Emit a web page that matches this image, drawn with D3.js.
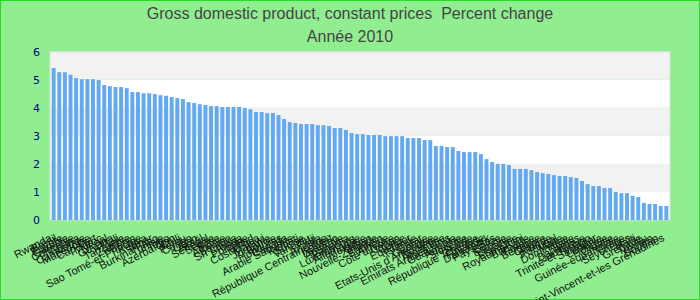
<!DOCTYPE html>
<html>
<head>
<meta charset="utf-8">
<script src="https://cdn.jsdelivr.net/npm/d3@7"></script>
<style>
    body{margin:0;padding:0;background:#fff;}
    .chart.wrapper{width:700px;height:300px;}
    .title{font-family:"Liberation Sans",Arial,sans-serif;font-size:16px;fill:#444;white-space:pre;}
    .ylab{font-family:"DejaVu Sans",sans-serif;font-size:11px;fill:#000080;}
    .xlab{font-family:"Liberation Sans",Arial,sans-serif;font-size:11px;fill:#111;}
</style>
</head>
<body>
<div class="chart wrapper"></div>
<script>
'use strict';
var countries = [
    "Rwanda","Brésil","Egypte","Gambie","Colombie","Ghana","Cambodge","Macédoine","Cap-Vert","Maroc",
    "Népal","Guyana","Mali","Tanzanie","Zambie","Bénin","Sao Tomé-et-Principe","Kenya","Niger","Burkina Faso",
    "Tunisie","Togo","Azerbaïdjan","Chili","Pérou","Congo","Liban","Israël","Sénégal","Serbie",
    "Syrie","Albanie","Samoa","Sri Lanka","Tonga","Pologne","Tchad","Costa Rica","Malawi","Jordanie",
    "Bolivie","Honduras","Canada","Arabie Saoudite","Kiribati","Suisse","Vanuatu","Fidji","Angola","République Centrafricaine",
    "Koweït","Lesotho","Australie","Panama","Luxembourg","Allemagne","Mexique","Oman","Nouvelle-Zélande","Bahreïn",
    "Algérie","Côte d'Ivoire","Japon","Corée","Equateur","Islande","Qatar","Géorgie","Etats-Unis d'Amérique","Norvège",
    "Argentine","Emirats Arabes Unis","Guatemala","Autriche","Slovénie","Suède","République Tchèque","Finlande","Danemark","Pays-Bas",
    "Belize","Estonie","Lituanie","Espagne","Royaume-Uni","Barbade","France","Belgique","Chypre","Irlande",
    "Portugal","Malte","Dominique","Italie","Bahamas","Jamaïque","Trinité-et-Tobago","Salvador","Lettonie","Hongrie",
    "Croatie","Guinée-équatoriale","Grèce","Seychelles","Haïti","Grenade","Tuvalu","Yémen","Soudan","Saint-Vincent-et-les Grenadines"
];
var growth = [
    5.42,5.27,5.27,5.18,5.06,5.02,5.02,5.02,4.99,4.81,
    4.77,4.74,4.74,4.70,4.56,4.56,4.52,4.52,4.49,4.45,
    4.43,4.38,4.35,4.31,4.20,4.17,4.13,4.10,4.06,4.06,
    4.03,4.03,4.03,4.03,3.99,3.95,3.85,3.85,3.81,3.81,
    3.74,3.60,3.49,3.46,3.42,3.42,3.42,3.38,3.38,3.35,
    3.28,3.28,3.21,3.10,3.06,3.06,3.03,3.03,3.03,2.99,
    2.99,2.99,2.99,2.92,2.92,2.92,2.85,2.85,2.64,2.64,
    2.60,2.60,2.46,2.42,2.42,2.42,2.35,2.17,2.07,2.00,
    2.00,1.96,1.82,1.82,1.82,1.78,1.71,1.67,1.64,1.60,
    1.57,1.57,1.53,1.50,1.39,1.28,1.21,1.21,1.14,1.14,
    1.00,0.96,0.96,0.86,0.82,0.61,0.57,0.57,0.50,0.50
];
var yTicks = [0,1,2,3,4,5,6];
var titleLines = ["Gross domestic product, constant prices  Percent change","Année 2010"];

var drawChart=function(){
    var W = 700, H = 300;
    var margin = {top: 51.7, right: 30, bottom: 80, left: 50},
        width = W - margin.left - margin.right,
        height = H - margin.top - margin.bottom;

    var svg = d3.select(".chart.wrapper").append("svg")
        .attr("width", W)
        .attr("height", H);

    // background + outer border
    svg.append("rect")
        .attr("x", 0.5).attr("y", 0.5)
        .attr("width", W - 1).attr("height", H - 1)
        .attr("fill", "#90ee90")
        .attr("stroke", "#22dd22");

    // titles
    svg.selectAll(".title")
        .data(titleLines)
        .enter().append("text")
        .attr("class", "title")
        .attr("xml:space", "preserve")
        .attr("x", W / 2)
        .attr("y", function(d, i){ return 18.5 + i * 23; })
        .attr("text-anchor", "middle")
        .text(function(d){ return d; });

    var g = svg.append("g")
        .attr("transform", "translate(" + margin.left + "," + margin.top + ")");

    var x = d3.scaleBand().domain(countries).range([0, width]).paddingInner(0.3).paddingOuter(0.3);
    var y = d3.scaleLinear().domain([0, 6]).range([height, 0]);

    // alternating bands
    g.selectAll(".band")
        .data(yTicks.slice(0, -1))
        .enter().append("rect")
        .attr("x", 0)
        .attr("width", width)
        .attr("y", function(d){ return y(d + 1); })
        .attr("height", function(d){ return y(d) - y(d + 1); })
        .attr("fill", function(d){ return d % 2 === 0 ? "#ffffff" : "#f2f2f2"; });

    // frame
    g.append("rect")
        .attr("x", 0).attr("y", 0)
        .attr("width", width).attr("height", height)
        .attr("fill", "none")
        .attr("stroke", "#dcdcdc");

    // bars
    g.selectAll(".bar")
        .data(growth)
        .enter().append("rect")
        .attr("class", "bar")
        .attr("x", function(d, i){ return x(countries[i]); })
        .attr("width", x.bandwidth())
        .attr("y", function(d){ return y(d); })
        .attr("height", function(d){ return height - y(d); })
        .attr("fill", "#63a9f2");

    // y axis
    var yAxis = g.append("g")
        .call(d3.axisLeft(y).tickValues(yTicks).tickFormat(d3.format("d")).tickSize(0).tickPadding(10));
    yAxis.select(".domain").remove();
    yAxis.selectAll("text").attr("class", "ylab").attr("font-family", null).attr("font-size", null).attr("fill", null);

    // x axis, rotated labels
    var xAxis = g.append("g")
        .attr("transform", "translate(0," + height + ")")
        .call(d3.axisBottom(x).tickSize(0).tickPadding(0));
    xAxis.select(".domain").remove();
    xAxis.selectAll("text")
        .attr("class", "xlab")
        .attr("font-family", null).attr("font-size", null).attr("fill", null)
        .attr("text-anchor", "end")
        .attr("y", 0)
        .attr("dy", "0.75em")
        .attr("transform", "translate(-5,13) rotate(-27)");
}

drawChart();
</script>
</body>
</html>
